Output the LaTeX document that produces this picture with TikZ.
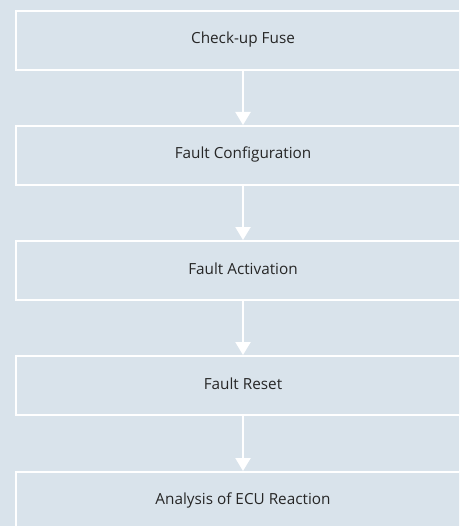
\documentclass[tikz,border=0pt]{standalone}
\usepackage{fontspec}
\setmainfont{Open Sans}
\usetikzlibrary{arrows.meta}
\definecolor{bgc}{RGB}{217,227,235}
\definecolor{txt}{RGB}{38,38,38}
\begin{document}
\begin{tikzpicture}[x=1pt,y=-1pt,
  stepbox/.style={draw=white,line width=2.2pt,fill=bgc,minimum width=456pt,minimum height=59pt,inner sep=0pt,anchor=north west},
  lbl/.style={text=txt,font=\fontsize{15.3}{18}\selectfont,anchor=base,inner sep=0pt},
  flow/.style={draw=white,line width=2.2pt,-{Triangle[width=15pt,length=13pt]},shorten >=-1pt}]
\fill[bgc] (0,0) rectangle (459,526);
\useasboundingbox (0,0) rectangle (459,526);
\begin{scope}
\clip (0,0) rectangle (459,526);
\node[stepbox] (b1) at (15,10) {};
\node[stepbox] (b2) at (15,125) {};
\node[stepbox] (b3) at (15,240) {};
\node[stepbox] (b4) at (15,355) {};
\node[stepbox] (b5) at (15,471) {};
\node[lbl] (t1) at (243,44) {Check-up Fuse};
\node[lbl] (t2) at (243,159) {Fault Configuration};
\node[lbl] (t3) at (243,274) {Fault Activation};
\node[lbl] (t4) at (243,389) {Fault Reset};
\node[lbl] (t5) at (243,504) {Analysis of ECU Reaction};
\coordinate (a1s) at (243,69); \coordinate (a1e) at (243,124);
\coordinate (a2s) at (243,184); \coordinate (a2e) at (243,239);
\coordinate (a3s) at (243,299); \coordinate (a3e) at (243,354);
\coordinate (a4s) at (243,414); \coordinate (a4e) at (243,470);
\draw[flow] (a1s) -- (a1e);
\draw[flow] (a2s) -- (a2e);
\draw[flow] (a3s) -- (a3e);
\draw[flow] (a4s) -- (a4e);
\end{scope}
\end{tikzpicture}
\end{document}
